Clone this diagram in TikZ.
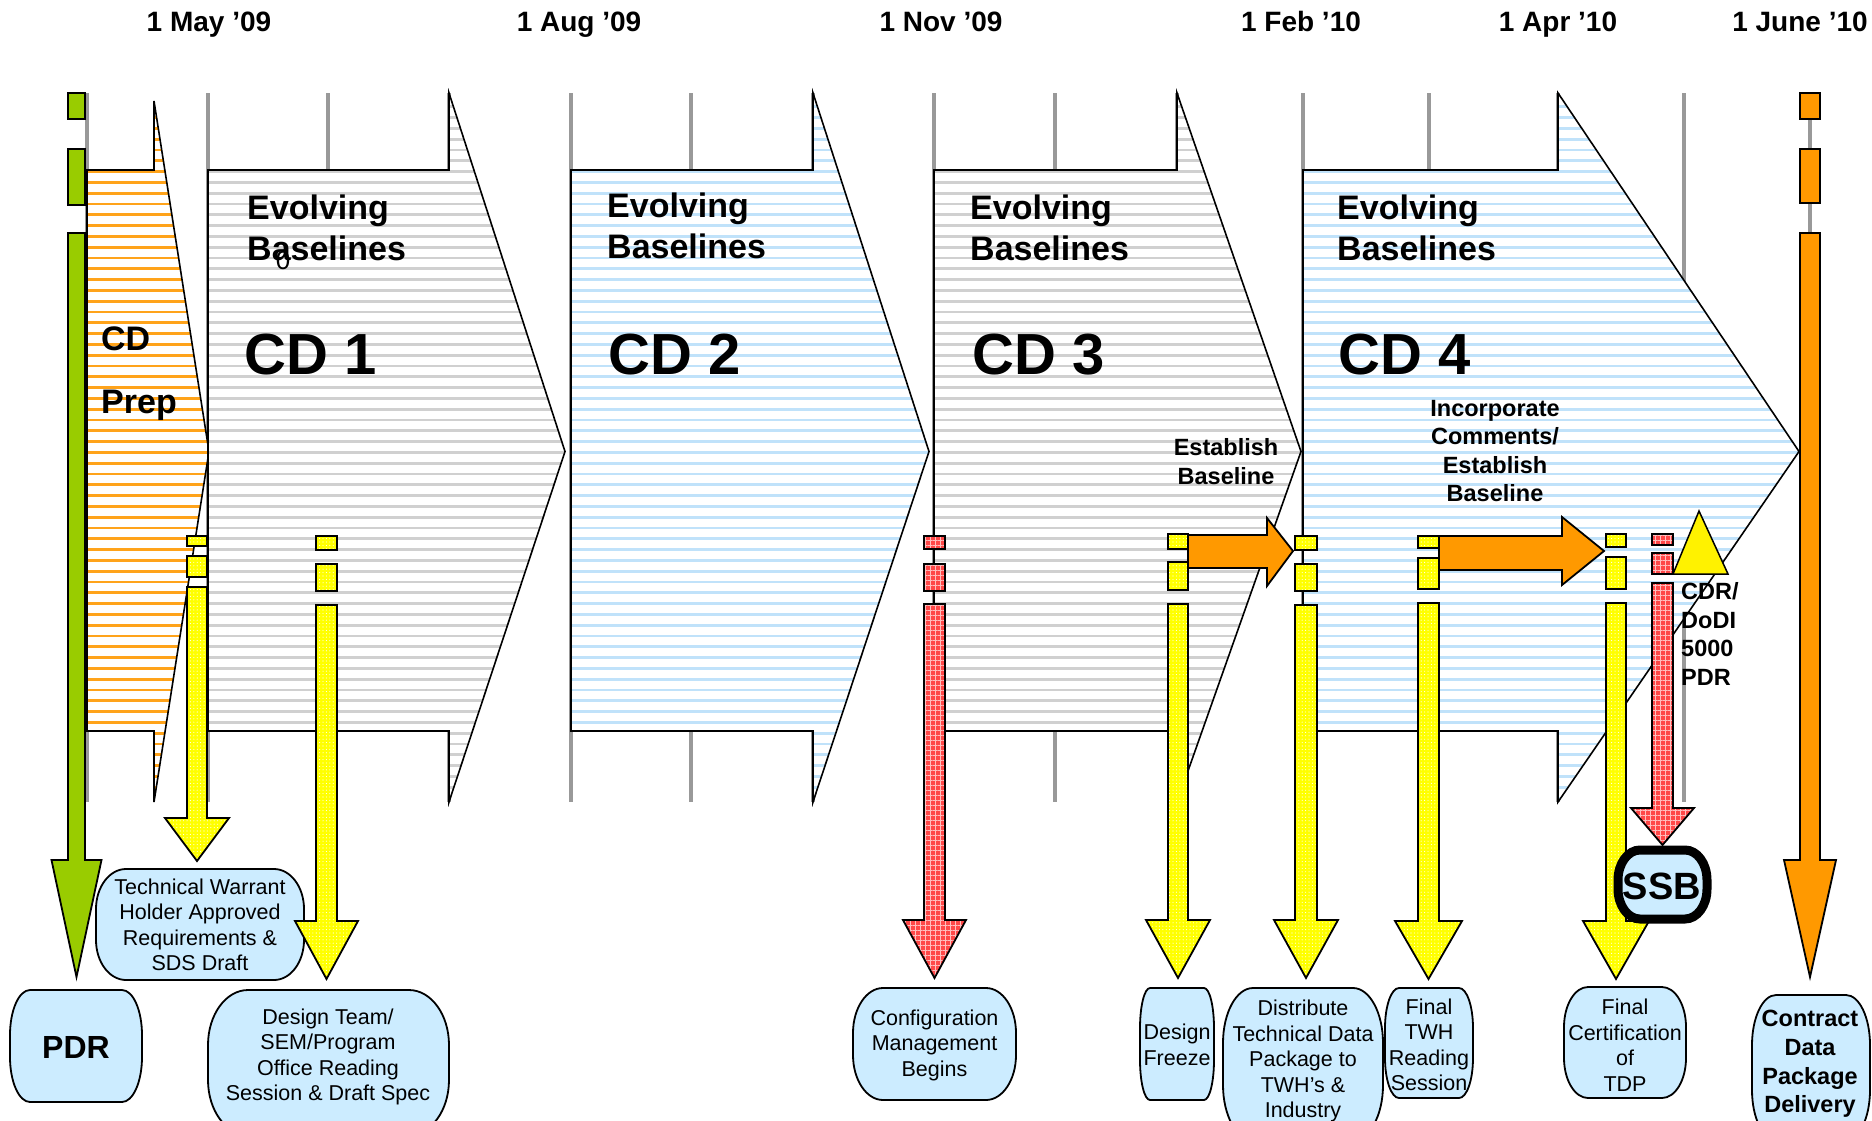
\documentclass[tikz,border=0pt]{standalone}
\usepackage{fontspec}
\setmainfont{Liberation Sans}
\usetikzlibrary{patterns.meta}
\definecolor{ylw}{HTML}{FFFF00}
\definecolor{rd}{HTML}{FF4848}
\definecolor{org}{HTML}{FF9900}
\definecolor{grn}{HTML}{99CC00}
\definecolor{lblue}{HTML}{CCECFF}
\definecolor{glc}{HTML}{999999}
\definecolor{gstripe}{HTML}{D0D0D0}
\definecolor{bstripe}{HTML}{C0E2FA}
\definecolor{ostripe}{HTML}{FFA31A}
\newcommand\fsz[2]{\fontsize{#1}{#2}\selectfont}
% big chevron arrow: xL xH xT headtop stripecolour
\newcommand\bigarr[5]{%
 \begin{scope}
  \clip (#1,170) -- (#2,170) -- (#2,#4) -- (#3,451.5) -- (#2,802) -- (#2,731) -- (#1,731) -- cycle;
  \fill[white] (#1,80) rectangle (#3,810);
  \foreach \yy in {96,106.8,...,805} {\draw[#5, line width=2.8pt] (#1,\yy) -- (#3,\yy);}
 \end{scope}
 \draw[line width=1.6pt] (#1,170) -- (#2,170) -- (#2,#4) -- (#3,451.5) -- (#2,802) -- (#2,731) -- (#1,731) -- cycle;}
% vertical block arrow: x1 x2 top base tip headextra style
\newcommand\varr[7]{%
 \path[#7] (#1,#3) -- (#2,#3) -- (#2,#4) -- (#2+#6,#4) -- ({(#1+#2)/2},#5) -- (#1-#6,#4) -- (#1,#4) -- cycle;}
% rounded box: x1 y1 x2 y2 rx ry style
\newcommand\rbx[7]{%
 \filldraw[#7] (#1+#5,#2) -- (#3-#5,#2) .. controls (#3-0.448*#5,#2) and (#3,#2+0.448*#6) .. (#3,#2+#6) -- (#3,#4-#6) .. controls (#3,#4-0.448*#6) and (#3-0.448*#5,#4) .. (#3-#5,#4) -- (#1+#5,#4) .. controls (#1+0.448*#5,#4) and (#1,#4-0.448*#6) .. (#1,#4-#6) -- (#1,#2+#6) .. controls (#1,#2+0.448*#6) and (#1+0.448*#5,#2) .. cycle;}
\tikzset{
  gl/.style={draw=glc, line width=4.5pt},
  outl/.style={draw=black, line width=1.8pt},
  yarr/.style={outl, preaction={fill=ylw}, pattern={Dots[distance=3.4pt,radius=0.55pt]}, pattern color=white},
  rarr/.style={outl, preaction={fill=rd}, pattern={Hatch[angle=0,distance=5pt,line width=0.7pt]}, pattern color=white!65!rd},
  garr/.style={outl, fill=grn},
  oarr/.style={outl, fill=org},
  nbox/.style={draw=black, line width=1.8pt, fill=lblue},
  ntext/.style={inner sep=0pt, align=center, font=\fsz{21.5}{25.5}},
  btext/.style={inner sep=0pt, align=center, font=\bfseries\fsz{23.5}{28.6}},
  evo/.style={inner sep=0pt, anchor=base west, font=\bfseries\fsz{34}{41}},
  cdt/.style={inner sep=0pt, anchor=base west, font=\bfseries\fsz{58}{60}},
  dlab/.style={inner sep=0pt, anchor=base, font=\bfseries\fsz{28}{30}},
}
\begin{document}
\begin{tikzpicture}[x=1pt,y=-1pt,line join=miter]
\useasboundingbox (0,0) rectangle (1872,1120);
\fill[white] (0,0) rectangle (1872,1120);

% date labels
\node[dlab] (d1) at (209,31.5) {1 May ’09};
\node[dlab] (d2) at (579,31.5) {1 Aug ’09};
\node[dlab] (d3) at (941,31.5) {1 Nov ’09};
\node[dlab] (d4) at (1301,31.5) {1 Feb ’10};
\node[dlab] (d5) at (1558,31.5) {1 Apr ’10};
\node[dlab] (d6) at (1800,31.5) {1 June ’10};

% grey grid lines
\foreach \x in {87,208,328,449,571,691,813,934,1055,1177,1303,1429,1558,1684}
  \draw[gl] (\x,93) -- (\x,802);
\draw[gl] (1810,93) -- (1810,233);

% phase chevrons
\bigarr{87}{154}{209}{101}{ostripe}
\bigarr{208}{449}{565}{93}{gstripe}
\bigarr{571}{813}{929}{93}{bstripe}
\bigarr{934}{1177}{1301}{93}{gstripe}
\bigarr{1303}{1558}{1799}{93}{bstripe}

% phase texts
\node[inner sep=0pt, anchor=base west, font=\bfseries\fsz{34}{41}] (cdp1) at (101,350) {CD};
\node[inner sep=0pt, anchor=base west, font=\bfseries\fsz{34}{41}] (cdp2) at (101,413) {Prep};
\node[evo] (e1a) at (247,219) {Evolving};
\node[evo] (e1b) at (247,260) {Baselines};
\node[inner sep=0pt, font=\fsz{26}{28}] (art) at (283,261) {0};
\node[cdt] (cd1) at (244,374) {CD 1};
\node[evo] (e2a) at (607,217) {Evolving};
\node[evo] (e2b) at (607,258) {Baselines};
\node[cdt] (cd2) at (608,374) {CD 2};
\node[evo] (e3a) at (970,219) {Evolving};
\node[evo] (e3b) at (970,260) {Baselines};
\node[cdt] (cd3) at (972,374) {CD 3};
\node[evo] (e4a) at (1337,219) {Evolving};
\node[evo] (e4b) at (1337,260) {Baselines};
\node[cdt] (cd4) at (1338,374) {CD 4};
\node[btext] (estb) at (1226,461.5) {Establish\\Baseline};
\node[btext] (incb) at (1495,451) {Incorporate\\Comments/\\Establish\\Baseline};

% nodes behind arrows
\rbx{96}{869}{304}{980}{30}{40}{nbox}
\node[ntext] (twh) at (200,925) {Technical Warrant\\Holder Approved\\Requirements \&\\SDS Draft};

% green milestone bar (left)
\filldraw[garr] (68,93) rectangle (85,119);
\filldraw[garr] (68,149) rectangle (85,205);
\varr{68}{85}{233}{860}{977}{16.5}{garr}

% orange milestone bar (right)
\filldraw[oarr] (1800,93) rectangle (1820,119);
\filldraw[oarr] (1800,149) rectangle (1820,203);
\varr{1800}{1820}{233}{860}{977}{16}{oarr}

% TWH arrow
\path[yarr] (187,536) rectangle (207,546);
\path[yarr] (187,556) rectangle (207,577);
\varr{187}{207}{587}{818}{861}{22}{yarr}
% Design team arrow
\path[yarr] (316,536) rectangle (337,550);
\path[yarr] (316,564) rectangle (337,591);
\varr{316}{337}{605}{921}{979}{21}{yarr}
% Configuration arrow
\path[rarr] (924,536) rectangle (945,549);
\path[rarr] (924,564) rectangle (945,591);
\varr{924}{945}{604}{920}{978}{21}{rarr}
% Design freeze arrow
\path[yarr] (1168,534) rectangle (1188,549);
\path[yarr] (1168,562) rectangle (1188,590);
\varr{1168}{1188}{604}{920}{978}{22}{yarr}
% Distribute arrow
\path[yarr] (1295,536) rectangle (1317,550);
\path[yarr] (1295,564) rectangle (1317,591);
\varr{1295}{1317}{605}{920}{978}{21}{yarr}
% Final TWH arrow
\path[yarr] (1418,536) rectangle (1439,548);
\path[yarr] (1418,558) rectangle (1439,589);
\varr{1418}{1439}{603}{921}{979}{23}{yarr}
% Final certification arrow
\path[yarr] (1606,534) rectangle (1626,547);
\path[yarr] (1606,557) rectangle (1626,589);
\varr{1606}{1626}{603}{921}{979}{23}{yarr}
% CDR red arrow
\path[rarr] (1652,534) rectangle (1673,545);
\path[rarr] (1652,553) rectangle (1673,574);
\varr{1652}{1673}{583}{808}{845}{21}{rarr}

% orange horizontal arrows
\filldraw[oarr] (1188,535) -- (1267,535) -- (1267,518) -- (1293,551) -- (1267,586) -- (1267,568) -- (1188,568) -- cycle;
\filldraw[oarr] (1439,536) -- (1562,536) -- (1562,517) -- (1604,551) -- (1562,585) -- (1562,570) -- (1439,570) -- cycle;

% yellow triangle
\filldraw[outl, line width=1.5pt, fill=yellow] (1673,574) -- (1699,511) -- (1728,574) -- cycle;
\node[inner sep=0pt, anchor=west, align=left, font=\bfseries\fsz{23.5}{28.5}] (cdr) at (1681,634) {CDR/\\DoDI\\5000\\PDR};

% bottom boxes
\rbx{10}{990}{142}{1102}{20}{45}{nbox}
\node[inner sep=0pt, font=\bfseries\fsz{32}{34}] (pdr) at (76,1047) {PDR};
\rbx{208}{990}{449}{1135}{40}{55}{nbox}
\node[ntext] (dt) at (328,1057) {Design Team/\\SEM/Program\\Office Reading\\Session \& Draft Spec};
\rbx{853}{988}{1016}{1100}{30}{45}{nbox}
\node[ntext] (cfg) at (934.5,1045) {Configuration\\Management\\Begins};
\rbx{1140}{988}{1214}{1100}{10}{40}{nbox}
\node[ntext] (dfz) at (1177,1045) {Design\\Freeze};
\rbx{1223}{988}{1383}{1140}{30}{55}{nbox}
\node[ntext] (dist) at (1303,1061) {Distribute\\Technical Data\\Package to\\TWH’s \&\\Industry};
\rbx{1385}{988}{1473}{1098}{14}{40}{nbox}
\node[ntext] (ftwh) at (1429,1045) {Final\\TWH\\Reading\\Session};
\rbx{1564}{987}{1686}{1098}{24}{40}{nbox}
\node[ntext] (fcert) at (1625,1045) {Final\\Certification\\of\\TDP};
\rbx{1752}{995}{1870}{1140}{24}{50}{nbox}
\node[btext] (cdpd) at (1810,1064) {Contract\\Data\\Package\\Delivery};
\rbx{1618}{850}{1707}{919}{22}{30}{draw=black, line width=9pt, fill=lblue}
\node[inner sep=0pt, font=\bfseries\fsz{38}{40}] (ssb) at (1662,886) {SSB};
\end{tikzpicture}
\end{document}
